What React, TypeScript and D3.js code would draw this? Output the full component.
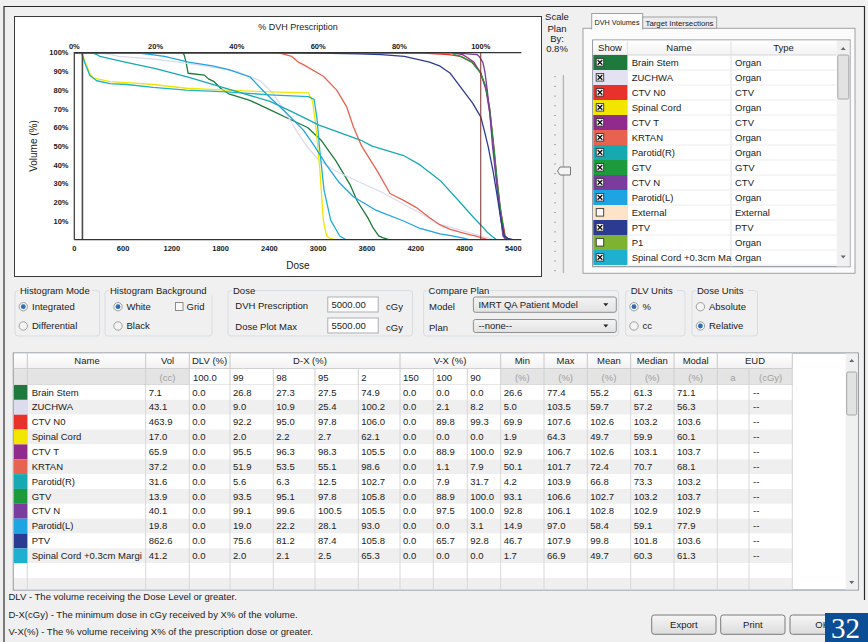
import React from 'react';
import * as d3 from 'd3';

const FONT = "'Liberation Sans', Arial, Helvetica, sans-serif";

// ---- structures (table order) ----
const structureNames = ['Brain Stem', 'ZUCHWA', 'CTV N0', 'Spinal Cord', 'CTV T', 'KRTAN', 'Parotid(R)', 'GTV', 'CTV N', 'Parotid(L)', 'PTV', 'Spinal Cord +0.3cm Margi'];
const structureColors = ['#1d7a3c', '#dcdcee', '#e8312b', '#f2e600', '#912a8d', '#e8634f', '#17a9b1', '#1c9a3c', '#7a3d9e', '#1ea3e3', '#2c3b92', '#1fb0cf'];

// ---- structure list (right panel) ----
const listNames = ['Brain Stem', 'ZUCHWA', 'CTV N0', 'Spinal Cord', 'CTV T', 'KRTAN', 'Parotid(R)', 'GTV', 'CTV N', 'Parotid(L)', 'External', 'PTV', 'P1', 'Spinal Cord +0.3cm Ma'];
const listTypes = ['Organ', 'Organ', 'CTV', 'Organ', 'CTV', 'Organ', 'Organ', 'GTV', 'CTV', 'Organ', 'External', 'PTV', 'Organ', 'Organ'];
const listColors = ['#1d7a3c', '#e2e2f2', '#e8312b', '#f2e600', '#912a8d', '#e8634f', '#17a9b1', '#1c9a3c', '#7a3d9e', '#1ea3e3', '#fde3c8', '#2c3b92', '#7db232', '#1fb0cf'];
const listShown = [true, true, true, true, true, true, true, true, true, true, false, true, false, true];

// ---- statistics table ----
const volCc = [7.1, 43.1, 463.9, 17.0, 65.9, 37.2, 31.6, 13.9, 40.1, 19.8, 862.6, 41.2];
const dlvPct = [0.0, 0.0, 0.0, 0.0, 0.0, 0.0, 0.0, 0.0, 0.0, 0.0, 0.0, 0.0];
const d99 = [26.8, 9.0, 92.2, 2.0, 95.5, 51.9, 5.6, 93.5, 99.1, 19.0, 75.6, 2.0];
const d98 = [27.3, 10.9, 95.0, 2.2, 96.3, 53.5, 6.3, 95.1, 99.6, 22.2, 81.2, 2.1];
const d95 = [27.5, 25.4, 97.8, 2.7, 98.3, 55.1, 12.5, 97.8, 100.5, 28.1, 87.4, 2.5];
const d2 = [74.9, 100.2, 106.0, 62.1, 105.5, 98.6, 102.7, 105.8, 105.5, 93.0, 105.8, 65.3];
const v150 = [0.0, 0.0, 0.0, 0.0, 0.0, 0.0, 0.0, 0.0, 0.0, 0.0, 0.0, 0.0];
const v100 = [0.0, 2.1, 89.8, 0.0, 88.9, 1.1, 7.9, 88.9, 97.5, 0.0, 65.7, 0.0];
const v90 = [0.0, 8.2, 99.3, 0.0, 100.0, 7.9, 31.7, 100.0, 100.0, 3.1, 92.8, 0.0];
const minPct = [26.6, 5.0, 69.9, 1.9, 92.9, 50.1, 4.2, 93.1, 92.8, 14.9, 46.7, 1.7];
const maxPct = [77.4, 103.5, 107.6, 64.3, 106.7, 101.7, 103.9, 106.6, 106.1, 97.0, 107.9, 66.9];
const meanPct = [55.2, 59.7, 102.6, 49.7, 102.6, 72.4, 66.8, 102.7, 102.8, 58.4, 99.8, 49.7];
const medianPct = [61.3, 57.2, 103.2, 59.9, 103.1, 70.7, 73.3, 103.2, 102.9, 59.1, 101.8, 60.3];
const modalPct = [71.1, 56.3, 103.6, 60.1, 103.7, 68.1, 103.2, 103.7, 102.9, 77.9, 103.6, 61.3];
const dxHeaders = ['99', '98', '95', '2'];
const vxHeaders = ['150', '100', '90'];

// ---- cumulative DVH curves: [dose cGy, volume %] ----
const brainStemDvh = [[0, 100], [1330, 100], [1350, 99], [1375, 95], [1400, 89], [1600, 88], [1650, 86], [1720, 84.5], [1800, 81], [1900, 78], [2160, 74.5], [2430, 69], [2600, 65.5], [2870, 60], [3040, 53], [3220, 42], [3390, 29.6], [3480, 20.7], [3610, 11.8], [3680, 6], [3745, 2], [3800, 1], [3870, 0]];
const zuchwaDvh = [[0, 100], [250, 100], [450, 99], [545, 98], [1000, 96.5], [1270, 95], [1600, 93], [2000, 90], [2285, 85], [2450, 78], [2600, 68], [2750, 57], [2860, 50], [3000, 43], [3200, 37], [3500, 31], [3800, 25], [4200, 15.5], [4500, 8.2], [4800, 4.5], [5000, 2.1], [5100, 0.8], [5175, 0]];
const ctvN0Dvh = [[0, 100], [3495, 100], [4300, 99.8], [4610, 99], [4750, 98], [4890, 95], [4990, 90], [5060, 82], [5110, 70], [5160, 50], [5200, 32], [5240, 17], [5300, 2], [5340, 0.5], [5380, 0]];
const spinalCordDvh = [[0, 100], [95, 100], [110, 98], [135, 95], [190, 89], [230, 86.5], [440, 84.5], [650, 84], [970, 83], [1380, 81], [1870, 80], [2400, 79], [2880, 78.5], [2930, 74], [2960, 65], [2995, 50], [3025, 35], [3064, 10], [3105, 2], [3150, 0.5], [3215, 0]];
const ctvTDvh = [[0, 100], [4645, 100], [4775, 99], [4815, 98], [4915, 95], [5000, 89], [5065, 80], [5110, 68], [5155, 50], [5195, 32], [5235, 17], [5275, 2], [5335, 0]];
const krtanDvh = [[0, 100], [2505, 100], [2595, 99], [2675, 98], [2755, 95], [2818, 93.6], [3064, 87.4], [3228, 80], [3351, 71], [3433, 60.4], [3535, 50], [3720, 37.2], [3884, 24.7], [4051, 21], [4215, 17], [4379, 11.5], [4500, 7.9], [4625, 5.5], [4745, 4], [4871, 2.6], [4930, 2], [5000, 1.1], [5085, 0]];
const parotidRDvh = [[0, 100], [210, 100], [280, 99], [315, 98], [625, 95], [1000, 91.5], [1400, 87], [1898, 80.5], [2408, 74], [2700, 68], [3011, 61.3], [3519, 53.3], [3665, 50], [4051, 45], [4253, 40], [4500, 31.7], [4745, 20], [4909, 12], [5000, 7.9], [5080, 4], [5135, 2], [5195, 0]];
const gtvDvh = [[0, 100], [4655, 100], [4675, 99], [4755, 98], [4890, 95], [5000, 89], [5060, 82], [5110, 70], [5160, 50], [5200, 32], [5240, 17], [5290, 2], [5330, 0]];
const ctvNDvh = [[0, 100], [4640, 100], [4955, 99], [4980, 98], [5025, 95], [5050, 90], [5080, 80], [5110, 68], [5145, 50], [5190, 32], [5230, 17], [5275, 2], [5305, 0]];
const parotidLDvh = [[0, 100], [745, 100], [950, 99], [1110, 98], [1405, 95], [1700, 93], [1900, 91], [2163, 87], [2338, 79], [2602, 68], [2818, 58.6], [2955, 50], [3100, 40], [3250, 31], [3433, 23], [3700, 16], [4051, 10], [4253, 6], [4500, 3.1], [4650, 2], [4786, 0.8], [4850, 0]];
const ptvDvh = [[0, 100], [2335, 100], [3000, 99.8], [3500, 99.4], [3780, 99], [4060, 98], [4370, 95], [4500, 92.8], [4625, 89], [4780, 80], [4900, 73], [5000, 65.7], [5040, 59], [5090, 50], [5150, 37], [5200, 24], [5250, 10], [5290, 2], [5330, 0.7], [5395, 0]];
const spinalMarginDvh = [[0, 100], [85, 100], [105, 98], [125, 95], [190, 88], [275, 85], [440, 83.5], [650, 83], [970, 81.5], [1380, 80], [1870, 79], [2400, 77.5], [2880, 76.5], [2950, 75], [2985, 65], [3015, 50], [3072, 26.5], [3154, 10.5], [3265, 2], [3345, 0]];
const dvhCurves = [brainStemDvh, zuchwaDvh, ctvN0Dvh, spinalCordDvh, ctvTDvh, krtanDvh, parotidRDvh, gtvDvh, ctvNDvh, parotidLDvh, ptvDvh, spinalMarginDvh];

// ---- axes ----
const prescriptionDose = 5000;
const plotMaxDose = 5500;
const markerDose = 100;
const doseTicks = [0, 600, 1200, 1800, 2400, 3000, 3600, 4200, 4800, 5400];
const prescriptionTicks = [0, 20, 40, 60, 80, 100];
const volumeTicks = [10, 20, 30, 40, 50, 60, 70, 80, 90, 100];

const T = (props: any) => <text fontFamily={FONT} fontSize={9.5} fill="#1a1a1a" {...props} />;

function Radio({ cx, cy, on }: { cx: number; cy: number; on?: boolean }) {
  return (
    <g>
      <circle cx={cx} cy={cy} r={4.2} fill="#f4f4f4" stroke="#8c8c8c" strokeWidth={0.8} />
      {on && <circle cx={cx} cy={cy} r={2.4} fill="#2d6db5" />}
    </g>
  );
}

function GroupBox({ x, y, w, h, title }: { x: number; y: number; w: number; h: number; title: string }) {
  const tw = title.length * 5.2;
  return (
    <g>
      <rect x={x} y={y} width={w} height={h} rx={3} fill="none" stroke="#d8dde2" />
      <rect x={x + 4} y={y - 5} width={tw} height={10} fill="#f0f0f0" />
      <T x={x + 5} y={y + 3.3}>{title}</T>
    </g>
  );
}

function Button({ x, y, w, h, label }: { x: number; y: number; w: number; h: number; label: string }) {
  return (
    <g>
      <rect x={x} y={y} width={w} height={h} rx={2.5} fill="url(#btnGrad)" stroke="#7a7a7a" />
      <T x={x + w / 2} y={y + h / 2 + 3.4} textAnchor="middle">{label}</T>
    </g>
  );
}

function Select({ x, y, w, h, label }: { x: number; y: number; w: number; h: number; label: string }) {
  return (
    <g>
      <rect x={x} y={y} width={w} height={h} rx={2} fill="url(#selGrad)" stroke="#8e8f8f" />
      <T x={x + 5} y={y + h / 2 + 3.3}>{label}</T>
      <path d={`M${x + w - 13},${y + h / 2 - 1.5} l5,0 l-2.5,3 z`} fill="#222" />
    </g>
  );
}

export default function App() {
  const x = d3.scaleLinear().domain([0, plotMaxDose]).range([74.3, 521.4]);
  const xPct = d3.scaleLinear().domain([0, (plotMaxDose / prescriptionDose) * 100]).range([74.3, 521.4]);
  const y = d3.scaleLinear().domain([0, 100]).range([239.7, 52.7]);
  const line = d3.line<number[]>().x((d) => x(d[0])).y((d) => y(d[1]));

  // table layout
  const colEdges = [27.3, 145.7, 189.3, 230, 273.3, 315, 358.3, 400, 433.3, 467.3, 500.7, 544, 587.3, 630.7, 674, 717.3, 749, 792.3];
  const rowTop0 = 385;
  const rowH = 14.85;
  const tableRows = structureNames.map((name, i) => [
    volCc[i], dlvPct[i], d99[i], d98[i], d95[i], d2[i], v150[i], v100[i], v90[i],
    minPct[i], maxPct[i], meanPct[i], medianPct[i], modalPct[i],
  ]);
  const headerGroups = [
    { x1: 145.7, label: 'Name', cx: 87 },
    { x1: 189.3, label: 'Vol', cx: 167.5 },
    { x1: 230, label: 'DLV (%)', cx: 209.6 },
    { x1: 400, label: 'D-X (%)', cx: 310 },
    { x1: 500.7, label: 'V-X (%)', cx: 450 },
    { x1: 544, label: 'Min', cx: 522.3 },
    { x1: 587.3, label: 'Max', cx: 565.6 },
    { x1: 630.7, label: 'Mean', cx: 609 },
    { x1: 674, label: 'Median', cx: 652.3 },
    { x1: 717.3, label: 'Modal', cx: 695.6 },
    { x1: 792.3, label: 'EUD', cx: 755 },
  ];

  return (
    <div style={{ position: 'absolute', left: 0, top: 0 }}>
      <svg width={868} height={642} viewBox="0 0 868 642" style={{ display: 'block' }}>
        <defs>
          <linearGradient id="btnGrad" x1="0" y1="0" x2="0" y2="1">
            <stop offset="0" stopColor="#f6f6f6" />
            <stop offset="1" stopColor="#dcdcdc" />
          </linearGradient>
          <linearGradient id="selGrad" x1="0" y1="0" x2="0" y2="1">
            <stop offset="0" stopColor="#f4f4f4" />
            <stop offset="1" stopColor="#e2e2e2" />
          </linearGradient>
          <linearGradient id="hdrGrad" x1="0" y1="0" x2="0" y2="1">
            <stop offset="0" stopColor="#ffffff" />
            <stop offset="1" stopColor="#f2f2f2" />
          </linearGradient>
          <clipPath id="plotClip">
            <rect x={74.3} y={52} width={447.1} height={188} />
          </clipPath>
        </defs>

        {/* window */}
        <rect x={0} y={0} width={868} height={642} fill="#f0f0f0" />
        <path d="M4,642 L4,6.5 L864.5,6.5 L864.5,600" fill="none" stroke="#2a2a2a" strokeWidth={1.2} />

        {/* ---------- DVH chart ---------- */}
        <rect x={14.5} y={16.5} width={527} height={260} fill="#ffffff" stroke="#3a3a3a" />
        <T x={298} y={30} textAnchor="middle" fontSize={9}>% DVH Prescription</T>
        {prescriptionTicks.map((p) => (
          <T key={'p' + p} x={xPct(p)} y={48.8} textAnchor="middle" fontSize={7.5} fontWeight="bold">{p}%</T>
        ))}
        {volumeTicks.map((v) => (
          <T key={'v' + v} x={68.5} y={y(v) + 2.7} textAnchor="end" fontSize={7.5} fontWeight="bold">{v}%</T>
        ))}
        {doseTicks.map((d) => (
          <T key={'d' + d} x={x(d)} y={250.5} textAnchor="middle" fontSize={7.5} fontWeight="bold">{d}</T>
        ))}
        <T x={0} y={0} transform={`translate(37,146) rotate(-90)`} textAnchor="middle" fontSize={10}>Volume (%)</T>
        <T x={298} y={269} textAnchor="middle" fontSize={10}>Dose</T>

        <g clipPath="url(#plotClip)">
          {dvhCurves.map((c, i) => (
            <path key={structureNames[i]} d={line(c) || ''} fill="none" stroke={structureColors[i]} strokeWidth={1.3} strokeLinejoin="round" />
          ))}
        </g>
        <line x1={x(markerDose)} x2={x(markerDose)} y1={y(100)} y2={y(0)} stroke="#4a4a4a" strokeWidth={1.6} />
        <line x1={x(prescriptionDose)} x2={x(prescriptionDose)} y1={y(100)} y2={y(0)} stroke="#7a2b2b" strokeWidth={1} />
        <path d={`M${x(0)},${y(0)} L${x(0)},${y(100)} L${x(plotMaxDose)},${y(100)}`} fill="none" stroke="#333" strokeWidth={1.2} />
        <line x1={x(0)} x2={x(plotMaxDose)} y1={y(0)} y2={y(0)} stroke="#333" strokeWidth={1.2} />

        {/* ---------- scale slider ---------- */}
        <T x={557} y={20} textAnchor="middle">Scale</T>
        <T x={557} y={31.5} textAnchor="middle">Plan</T>
        <T x={557} y={42} textAnchor="middle">By:</T>
        <T x={557} y={52} textAnchor="middle">0.8%</T>
        <line x1={563.3} x2={563.3} y1={75} y2={273} stroke="#9a9a9a" />
        <line x1={564.3} x2={564.3} y1={75} y2={273} stroke="#e8e8e8" />
        {d3.range(0, 21).map((k) => (
          <line key={'tk' + k} x1={554} x2={556} y1={76.7 + k * 9.7} y2={76.7 + k * 9.7} stroke="#a8a8a8" />
        ))}
        <path d="M557.5,171 L560,167 L570.5,167 L570.5,175 L560,175 Z" fill="#f4f4f4" stroke="#777" strokeLinejoin="round" />

        {/* ---------- structure list ---------- */}
        <rect x={583} y={28.3} width={272} height={245} fill="#fbfbfb" stroke="#a0a0a0" />
        <rect x={591.7} y={13.5} width={51} height={15.5} fill="#fbfbfb" stroke="#a0a0a0" />
        <rect x={592.2} y={28} width={50} height={2} fill="#fbfbfb" />
        <T x={594.5} y={24.5} fontSize={8} textLength={45} lengthAdjust="spacingAndGlyphs">DVH Volumes</T>
        <rect x={642.7} y={17} width={74} height={11.3} fill="#ececec" stroke="#a0a0a0" />
        <T x={645.5} y={25.8} fontSize={8} textLength={68} lengthAdjust="spacingAndGlyphs">Target Intersections</T>

        <rect x={592.7} y={40} width={257.3} height={226.7} fill="#ffffff" stroke="#828790" />
        <rect x={593.2} y={40.5} width={243.5} height={14.5} fill="url(#hdrGrad)" />
        <line x1={593} x2={836.7} y1={55} y2={55} stroke="#d5d5d5" />
        {[627.3, 731].map((cx) => (
          <line key={'lc' + cx} x1={cx} x2={cx} y1={40} y2={266.7} stroke="#e0e0e0" />
        ))}
        <T x={610} y={51} textAnchor="middle">Show</T>
        <T x={679} y={51} textAnchor="middle">Name</T>
        <T x={783.5} y={51} textAnchor="middle">Type</T>
        {listNames.map((name, i) => {
          const top = 55 + i * 15;
          return (
            <g key={'ls' + i}>
              <rect x={593.3} y={top} width={34} height={15} fill={listColors[i]} />
              <line x1={627.3} x2={836.7} y1={top + 15} y2={top + 15} stroke="#ececec" />
              <rect x={596.2} y={top + 3.6} width={7.5} height={7.5} fill="#ffffff" stroke="#333" strokeWidth={0.9} />
              {listShown[i] && (
                <path d={`M${597.6},${top + 5} l4.7,4.7 M${602.3},${top + 5} l-4.7,4.7`} stroke="#111" strokeWidth={1.4} />
              )}
              <T x={631.7} y={top + 10.8}>{name}</T>
              <T x={735} y={top + 10.8}>{listTypes[i]}</T>
            </g>
          );
        })}
        <rect x={836.7} y={40.5} width={13} height={226} fill="#f0f0f0" />
        <path d="M840.7,50 l2.5,-3 l2.5,3 z" fill="#666" />
        <rect x={837.8} y={55} width={11} height={44} rx={1.5} fill="#e2e2e2" stroke="#a6a6a6" />
        <path d="M840.7,255.5 l5,0 l-2.5,3 z" fill="#666" />

        {/* ---------- option groups ---------- */}
        <GroupBox x={15} y={290.5} w={84.7} h={45.5} title="Histogram Mode" />
        <Radio cx={23.3} cy={306.7} on />
        <T x={32} y={310}>Integrated</T>
        <Radio cx={23.3} cy={326} />
        <T x={32} y={329.3}>Differential</T>

        <GroupBox x={105} y={290.5} w={107} h={45.5} title="Histogram Background" />
        <Radio cx={118} cy={306.7} on />
        <T x={126.5} y={310}>White</T>
        <rect x={175.5} y={302.5} width={7.5} height={8} fill="#fafafa" stroke="#8c8c8c" />
        <T x={186.5} y={310}>Grid</T>
        <Radio cx={118} cy={326} />
        <T x={126.5} y={329.3}>Black</T>

        <GroupBox x={228} y={290.5} w={184.5} h={45.5} title="Dose" />
        <T x={235.3} y={309}>DVH Prescription</T>
        <rect x={327.8} y={297} width={50.4} height={15} fill="#ffffff" stroke="#abadb3" />
        <T x={331.5} y={308}>{prescriptionDose.toFixed(2)}</T>
        <T x={386} y={310}>cGy</T>
        <T x={235.3} y={330}>Dose Plot Max</T>
        <rect x={327.8} y={318} width={50.4} height={15} fill="#ffffff" stroke="#abadb3" />
        <T x={331.5} y={329}>{plotMaxDose.toFixed(2)}</T>
        <T x={386} y={331}>cGy</T>

        <GroupBox x={423.6} y={290.5} w={195} h={45.5} title="Compare Plan" />
        <T x={429} y={309.5}>Model</T>
        <Select x={473.4} y={297} w={142.9} h={15.3} label="IMRT QA Patient Model" />
        <T x={429} y={330.5}>Plan</T>
        <Select x={473.4} y={319.5} w={142.9} h={13} label="--none--" />

        <GroupBox x={625.7} y={290.5} w={59.3} h={45.5} title="DLV Units" />
        <Radio cx={634} cy={306.7} on />
        <T x={642.5} y={310}>%</T>
        <Radio cx={634} cy={326} />
        <T x={642.5} y={329.3}>cc</T>

        <GroupBox x={692} y={290.5} w={65.5} h={45.5} title="Dose Units" />
        <Radio cx={700.4} cy={306.7} />
        <T x={709} y={310}>Absolute</T>
        <Radio cx={700.4} cy={326} on />
        <T x={709} y={329.3}>Relative</T>

        {/* ---------- statistics table ---------- */}
        <rect x={13.3} y={353} width={845} height={237} fill="#ffffff" stroke="#828790" />
        <rect x={13.8} y={353.5} width={778.5} height={15} fill="url(#hdrGrad)" />
        <rect x={13.8} y={368.5} width={175.5} height={16.5} fill="#e4e4e4" />
        <rect x={500.7} y={368.5} width={291.6} height={16.5} fill="#e4e4e4" />
        <line x1={13.5} x2={792.3} y1={368.5} y2={368.5} stroke="#d0d0d0" />
        <line x1={13.5} x2={792.3} y1={385} y2={385} stroke="#d0d0d0" />
        {headerGroups.map((g) => (
          <g key={'hg' + g.label}>
            <line x1={g.x1} x2={g.x1} y1={353} y2={368.5} stroke="#c8c8c8" />
            <T x={g.cx} y={364} textAnchor="middle">{g.label}</T>
          </g>
        ))}
        <line x1={27.3} x2={27.3} y1={353} y2={368.5} stroke="#c8c8c8" />
        {colEdges.map((cx) => (
          <line key={'ce' + cx} x1={cx} x2={cx} y1={368.5} y2={385} stroke="#d0d0d0" />
        ))}
        <T x={167.5} y={380.5} textAnchor="middle" fill="#a0a0a0">(cc)</T>
        <T x={193} y={380.5}>{(100).toFixed(1)}</T>
        {dxHeaders.map((h, k) => (
          <T key={'dx' + h} x={colEdges[3 + k] + 3} y={380.5}>{h}</T>
        ))}
        {vxHeaders.map((h, k) => (
          <T key={'vx' + h} x={colEdges[7 + k] + 3} y={380.5}>{h}</T>
        ))}
        {[0, 1, 2, 3, 4].map((k) => (
          <T key={'pc' + k} x={(colEdges[10 + k] + colEdges[11 + k]) / 2} y={380.5} textAnchor="middle" fill="#a0a0a0">(%)</T>
        ))}
        <T x={733} y={380.5} textAnchor="middle" fill="#a0a0a0">a</T>
        <T x={770.6} y={380.5} textAnchor="middle" fill="#a0a0a0">(cGy)</T>

        {d3.range(0, 14).map((i) => {
          const top = rowTop0 + i * rowH;
          const h = Math.min(rowH, 589.5 - top);
          return <rect key={'rb' + i} x={13.8} y={top} width={778.5} height={h} fill={i % 2 === 0 ? '#ffffff' : '#efefef'} />;
        })}
        {colEdges.map((cx) => (
          <line key={'cd' + cx} x1={cx} x2={cx} y1={385} y2={589.5} stroke="#d8d8d8" />
        ))}
        {structureNames.map((name, i) => {
          const top = rowTop0 + i * rowH;
          return (
            <g key={'tr' + i}>
              <rect x={14} y={top} width={13.3} height={rowH} fill={structureColors[i]} />
              <T x={31.7} y={top + 10.6}>{name}</T>
              {tableRows[i].map((v, k) => (
                <T key={'c' + k} x={colEdges[k + 1] + 3} y={top + 10.6}>{v.toFixed(1)}</T>
              ))}
              <T x={753} y={top + 10.6}>--</T>
            </g>
          );
        })}
        <rect x={845.7} y={353.5} width={12} height={236} fill="#f0f0f0" />
        <path d="M849.2,362 l2.5,-3 l2.5,3 z" fill="#666" />
        <rect x={846.7} y={372} width={10} height={43} rx={1.5} fill="#e2e2e2" stroke="#a6a6a6" />
        <path d="M849.2,581 l5,0 l-2.5,3 z" fill="#666" />

        {/* ---------- notes and buttons ---------- */}
        <T x={8.5} y={600}>DLV - The volume receiving the Dose Level or greater.</T>
        <T x={8.5} y={617.5}>D-X(cGy) - The minimum dose in cGy received by X% of the volume.</T>
        <T x={8.5} y={635}>V-X(%) - The % volume receiving X% of the prescription dose or greater.</T>
        <Button x={651.7} y={615} w={64.3} h={19.3} label="Export" />
        <Button x={720.7} y={615} w={64.3} h={19.3} label="Print" />
        <Button x={790} y={615} w={64.3} h={19.3} label="OK" />
        <rect x={825} y={613} width={43} height={29} fill="#0b4e96" />
        <text x={845.5} y={637.5} textAnchor="middle" fontFamily="'Liberation Serif', 'Times New Roman', serif" fontSize={29} fill="#ffffff">32</text>
      </svg>
    </div>
  );
}
